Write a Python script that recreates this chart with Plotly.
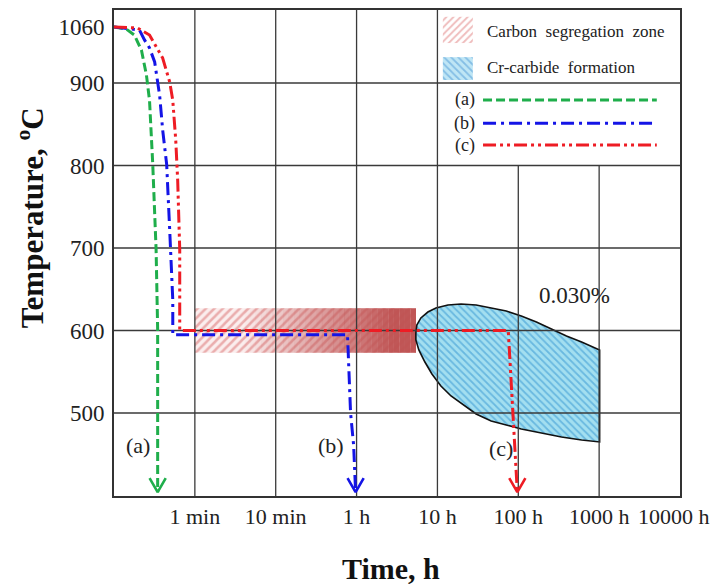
import numpy as np
import plotly.graph_objects as go

# ---------------- data ----------------
tick_labels = ["1 min", "10 min", "1 h", "10 h", "100 h", "1000 h", "10000 h"]
tick_seconds = [60, 600, 3600, 36000, 360000, 3600000, 36000000]
temp_ticks = [1060, 900, 800, 700, 600, 500]

# cooling / holding paths: time in seconds, temperature in degC
a_time = [6, 8.5, 10.7, 13.1, 15.1, 16.5, 18.1, 19.9, 20.8, 20.8]
a_temp = [1060, 1054, 1037, 994, 923, 879, 801, 698, 601, 404]
b_time = [6, 12.4, 14.3, 16.5, 19.1, 20.8, 22.0, 24.0, 26.9, 29.3, 32.0, 32.0, 2946, 3152, 3373, 3524]
b_temp = [1060, 1051, 1023, 1000, 960, 903, 885, 843, 801, 722, 637, 595, 595, 500, 461, 404]
c_time = [6, 11.7, 16.5, 20.2, 24.0, 29.3, 32.0, 34.8, 36.8, 39.0, 39.0, 270700, 294500, 320800, 350300]
c_temp = [1060, 1057, 1037, 1003, 971, 903, 879, 831, 782, 698, 600, 600, 540, 479, 404]

# carbon segregation zone (time s, temp degC)
seg_time = [60, 19470]
seg_temp = [573, 627]

# Cr-carbide formation region, 0.030 % C (time h, temp degC)
carbide_time_h = [5.41, 5.56, 6.24, 7.62, 9.58, 13.49, 19.59, 30.1, 46.2, 71.0, 108.9, 167.5,
                  257, 394, 607, 1014, 1014, 607, 342, 193, 108.9, 71.0, 46.2, 30.1, 20.7,
                  14.72, 11.04, 8.55, 7.00, 5.89, 5.41]
carbide_temp = [597, 606.7, 615.2, 622.4, 627.3, 630.9, 632.1, 630.9, 627.3, 623.6, 617.6, 610.3,
                601.8, 593.3, 586.1, 576.4, 464.9, 467.3, 471.0, 475.8, 480.6, 485.5, 490.3, 498.8, 509.7,
                520.6, 532.7, 547.3, 561.8, 576.4, 588.5]

# path labels (time s, temp degC)
label_text = ["(a)", "(b)", "(c)"]
label_time = [11.8, 2050, 222000]
label_temp = [461, 461, 457]

# ---------------- scales ----------------
AX_SEC = [6] + tick_seconds
AX_POS = list(range(-1, 7))


def xpos(t):
    return np.interp(np.log10(np.asarray(t, float)), np.log10(AX_SEC), AX_POS)


def ypos(T):
    T = np.asarray(T, float)
    return np.where(T > 900, 900 + (T - 900) * 68 / 160, T)


FONT = "Liberation Serif"
GREEN = "#1fae4b"
BLUE = "#1414e6"
RED = "#ee1c24"
GRID = "#3a3a3a"
YMIN, YMAX = 399.4, 988.5
XMIN, XMAX = -1, 6

fig = go.Figure()

# segregation zone: hatched base
sx0, sx1 = xpos(seg_time)
sy0, sy1 = ypos(seg_temp)
fig.add_trace(go.Scatter(
    x=[sx0, sx1, sx1, sx0, sx0], y=[sy0, sy0, sy1, sy1, sy0], mode="lines",
    line=dict(width=0), fill="toself", fillcolor="white",
    fillpattern=dict(shape="/", fgcolor="#d96b6b", bgcolor="#fbeeee", size=6, solidity=0.42),
    showlegend=False, hoverinfo="skip"))
# gradient towards solid red
N = 40
edges = np.linspace(sx0, sx1, N + 1)
for i in range(N):
    xm = 0.5 * (edges[i] + edges[i + 1])
    alpha = float(np.clip((xm - 0.6) / (2.45 - 0.6), 0, 1)) * 0.97
    if alpha <= 0:
        continue
    fig.add_trace(go.Scatter(
        x=[edges[i], edges[i + 1] + 0.002, edges[i + 1] + 0.002, edges[i], edges[i]],
        y=[sy0, sy0, sy1, sy1, sy0], mode="lines", line=dict(width=0),
        fill="toself", fillcolor=f"rgba(190,82,82,{alpha:.3f})",
        showlegend=False, hoverinfo="skip"))

# carbide region
cx = xpos(np.array(carbide_time_h) * 3600)
cy = ypos(carbide_temp)
fig.add_trace(go.Scatter(
    x=np.append(cx, cx[0]), y=np.append(cy, cy[0]), mode="lines",
    line=dict(color="#111111", width=1.6),
    fill="toself", fillcolor="#a3dff0",
    fillpattern=dict(shape="\\", fgcolor="#2f92cf", bgcolor="#a3dff0", size=5, solidity=0.35),
    showlegend=False, hoverinfo="skip"))

# grid lines (drawn above fills)
for k in range(0, 6):
    ytop = YMAX if k < 4 else 800
    fig.add_trace(go.Scatter(x=[k, k], y=[YMIN, ytop], mode="lines",
                             line=dict(color=GRID, width=1.3), showlegend=False, hoverinfo="skip"))
for T in temp_ticks[1:]:
    fig.add_trace(go.Scatter(x=[XMIN, XMAX], y=[T, T], mode="lines",
                             line=dict(color=GRID, width=1.3), showlegend=False, hoverinfo="skip"))

# paths
paths = [(a_time, a_temp, GREEN, "9px,4px"),
         (b_time, b_temp, BLUE, "13px,5px,3px,5px"),
         (c_time, c_temp, RED, "13px,4px,3px,4px,3px,4px")]
for t, T, col, dash in paths:
    px_, py_ = xpos(t), ypos(T)
    fig.add_trace(go.Scatter(x=px_, y=py_, mode="lines",
                             line=dict(color=col, width=3, dash=dash),
                             showlegend=False, hoverinfo="skip"))
    tipx, tipy = px_[-1], py_[-1]
    fig.add_trace(go.Scatter(x=[tipx - 0.1, tipx, tipx + 0.1], y=[tipy + 17, tipy, tipy + 17],
                             mode="lines", line=dict(color=col, width=2.6),
                             showlegend=False, hoverinfo="skip"))

# labels
for txt, t, T in zip(label_text, label_time, label_temp):
    fig.add_annotation(x=float(xpos(t)), y=float(ypos(T)), text=txt, showarrow=False,
                       font=dict(family=FONT, size=22, color="#222"))
fig.add_annotation(x=float(xpos(1788000)), y=643, text="0.030%", showarrow=False,
                   font=dict(family=FONT, size=23, color="#222"))

# ---------------- legend (overlay axis in plot fractions) ----------------
def box(x0, x1, y0, y1):
    return [x0, x1, x1, x0, x0], [y0, y0, y1, y1, y0]

bx, by = box(0.581, 0.634, 0.932, 0.986)
fig.add_trace(go.Scatter(x=bx, y=by, xaxis="x2", yaxis="y2", mode="lines", line=dict(width=0),
                         fill="toself", fillcolor="white",
                         fillpattern=dict(shape="/", fgcolor="#e07a7a", bgcolor="white", size=5, solidity=0.38),
                         showlegend=False, hoverinfo="skip"))
bx, by = box(0.581, 0.634, 0.856, 0.903)
fig.add_trace(go.Scatter(x=bx, y=by, xaxis="x2", yaxis="y2", mode="lines", line=dict(width=0),
                         fill="toself", fillcolor="white",
                         fillpattern=dict(shape="\\", fgcolor="#4a96d6", bgcolor="#bfe6f5", size=5, solidity=0.35),
                         showlegend=False, hoverinfo="skip"))
legend_rows = [("(a)", 0.815, GREEN, "9px,4px"),
               ("(b)", 0.767, BLUE, "13px,5px,3px,5px"),
               ("(c)", 0.722, RED, "13px,4px,3px,4px,3px,4px")]
for txt, yy, col, dash in legend_rows:
    fig.add_trace(go.Scatter(x=[0.652, 0.959], y=[yy, yy], xaxis="x2", yaxis="y2", mode="lines",
                             line=dict(color=col, width=3, dash=dash),
                             showlegend=False, hoverinfo="skip"))
    fig.add_annotation(x=0.641, y=yy, xref="paper", yref="paper", text=txt, showarrow=False,
                       xanchor="right", yanchor="middle", font=dict(family=FONT, size=18, color="#222"))
fig.add_annotation(x=0.655, y=0.956, xref="paper", yref="paper", text="Carbon  segregation  zone",
                   showarrow=False, xanchor="left", yanchor="middle",
                   font=dict(family=FONT, size=17, color="#222"))
fig.add_annotation(x=0.655, y=0.881, xref="paper", yref="paper", text="Cr-carbide  formation",
                   showarrow=False, xanchor="left", yanchor="middle",
                   font=dict(family=FONT, size=17, color="#222"))

# last time tick label, kept inside the page at the right edge
fig.add_annotation(x=1.0, y=0, xref="paper", yref="paper", text=tick_labels[-1],
                   showarrow=False, xanchor="right", yanchor="top", xshift=32, yshift=-6,
                   font=dict(family=FONT, size=22, color="#222"))

# axis titles
fig.add_annotation(x=-0.148, y=0.572, xref="paper", yref="paper", textangle=-90,
                   xanchor="center", yanchor="middle",
                   text="<b>Temperature, <sup>o</sup>C</b>", showarrow=False,
                   font=dict(family=FONT, size=31, color="#111"))
fig.add_annotation(x=0.489, y=-0.150, xref="paper", yref="paper",
                   xanchor="center", yanchor="middle",
                   text="<b>Time, h</b>", showarrow=False,
                   font=dict(family=FONT, size=30, color="#111"))

fig.update_layout(
    width=713, height=586, margin=dict(l=114, r=33, t=10, b=90, autoexpand=False),
    plot_bgcolor="white", paper_bgcolor="white", showlegend=False,
    xaxis=dict(range=[XMIN, XMAX], tickvals=list(range(0, 6)), ticktext=tick_labels[:-1],
               showgrid=False, zeroline=False, showline=True, mirror=True, automargin=False,
               linecolor="#333", linewidth=2, ticks="",
               tickfont=dict(family=FONT, size=22, color="#222")),
    yaxis=dict(range=[YMIN, YMAX], tickvals=[float(v) for v in ypos(temp_ticks)],
               ticktext=[str(v) for v in temp_ticks], automargin=False,
               showgrid=False, zeroline=False, showline=True, mirror=True,
               linecolor="#333", linewidth=2, ticks="", ticklabelstandoff=3,
               tickfont=dict(family=FONT, size=23, color="#222")),
    xaxis2=dict(range=[0, 1], overlaying="x", visible=False),
    yaxis2=dict(range=[0, 1], overlaying="y", visible=False),
)

fig.write_html("out.html")
